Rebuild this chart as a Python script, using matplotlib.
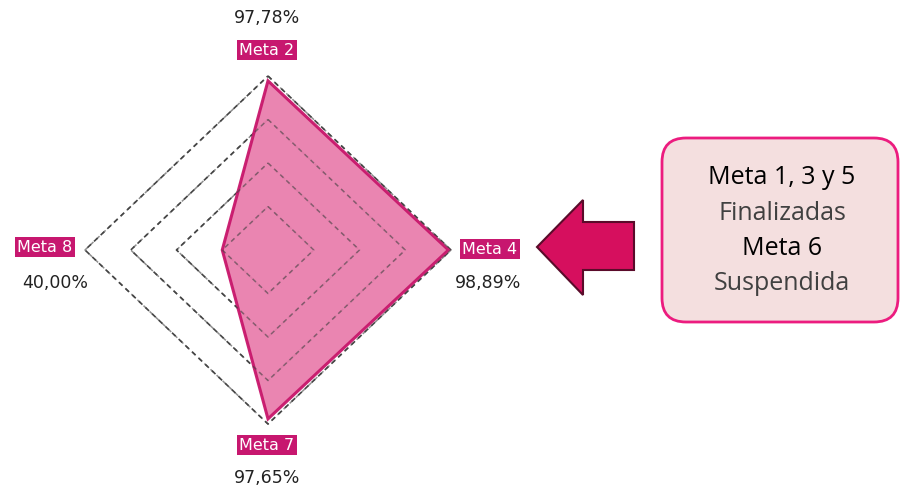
import matplotlib.pyplot as plt
import numpy as np
from matplotlib.patches import FancyBboxPatch, Polygon

# data
metas = ['Meta 2', 'Meta 4', 'Meta 7', 'Meta 8']
valores = [0.9778, 0.9889, 0.9765, 0.40]
etiquetas = ['97,78%', '98,89%', '97,65%', '40,00%']
anillos = [0.4, 0.6, 0.8, 1.0]
r_min = 0.2  # centre of the radar

cx, cy = 268, 250
rx, ry = 183, 174
ang = np.array([90, 0, -90, 180]) * np.pi / 180


def xy(v):
    r = (np.asarray(v) - r_min) / (1 - r_min)
    return cx + rx * r * np.cos(ang), cy - ry * r * np.sin(ang)


fig = plt.figure(figsize=(9.03, 4.91), dpi=100)
ax = fig.add_axes([0, 0, 1, 1])
ax.set_xlim(0, 903)
ax.set_ylim(491, 0)
ax.axis('off')

# grid
for a in anillos:
    gx, gy = xy([a] * 4)
    ax.plot(np.append(gx, gx[0]), np.append(gy, gy[0]), ls=(0, (3, 2.5)),
            color='#444444', lw=1.2, zorder=1)

# data polygon
px, py = xy(valores)
ax.add_patch(Polygon(np.column_stack([px, py]), closed=True, facecolor='#E97FAD',
                     edgecolor='#C8166B', lw=2.2, alpha=0.95, zorder=2))
for a in anillos:
    qx, qy = xy([a] * 4)
    ax.plot(np.append(qx, qx[0]), np.append(qy, qy[0]), ls=(0, (3, 2.5)),
            color='#444444', lw=1.1, alpha=0.6, zorder=3)

# labels
caja = dict(boxstyle='square,pad=0.15', facecolor='#C7176F', edgecolor='none')
pos_meta = [(267, 50), (490, 249), (267, 445), (45, 247)]
pos_val = [(267, 18), (488, 283), (267, 478), (55, 283)]
for m, e, pm, pv in zip(metas, etiquetas, pos_meta, pos_val):
    ax.text(pm[0], pm[1], m, color='white', fontsize=11.5, ha='center', va='center',
            bbox=caja, family='DejaVu Sans', zorder=5)
    ax.text(pv[0], pv[1], e, color='#222222', fontsize=12.5, ha='center', va='center',
            family='DejaVu Sans', zorder=5)

# arrow
flecha = [(537, 247), (583, 200), (583, 222), (634, 222), (634, 270),
          (583, 270), (583, 295)]
ax.add_patch(Polygon(flecha, closed=True, facecolor='#D60F5E', edgecolor='#5A0B2A',
                     lw=1.5, zorder=4))

# note box
ax.add_patch(FancyBboxPatch((662, 138), 236, 184, boxstyle='round,pad=0,rounding_size=24',
                            facecolor='#F4DFDF', edgecolor='#EC1C7F', lw=2, zorder=4))
notas = [('Meta 1, 3 y 5', '#000000', 177), ('Finalizadas', '#404040', 213),
         ('Meta 6', '#000000', 248), ('Suspendida', '#404040', 284)]
for t, c, y in notas:
    ax.text(782, y, t, color=c, fontsize=18, ha='center', va='center',
            family='Open Sans', zorder=5)

fig.savefig('out.png', dpi=100)
